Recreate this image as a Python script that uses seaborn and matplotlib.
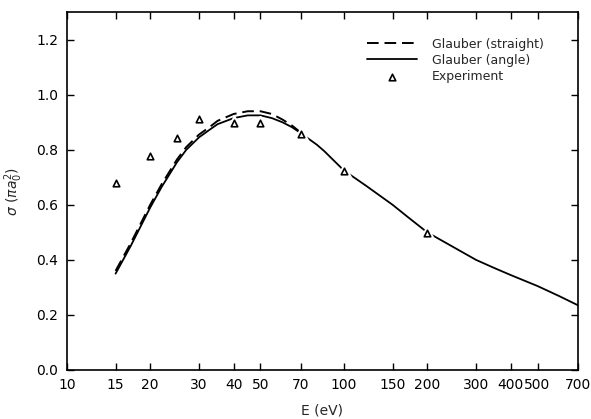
import matplotlib
matplotlib.use("Agg")
import matplotlib.pyplot as plt
import seaborn as sns
import pandas as pd
import numpy as np

# Glauber (angle) - solid
E_angle = [15, 17, 20, 22, 25, 27, 30, 33, 35, 40, 45, 50, 55, 60, 65, 70, 80, 85, 100,
           120, 150, 170, 200, 250, 300, 350, 400, 500, 600, 700]
s_angle = [0.35, 0.45, 0.59, 0.665, 0.755, 0.80, 0.845, 0.875, 0.893, 0.915, 0.925, 0.925,
           0.915, 0.90, 0.882, 0.86, 0.818, 0.795, 0.725, 0.67, 0.60, 0.556, 0.50, 0.445,
           0.40, 0.37, 0.345, 0.305, 0.268, 0.235]

# Glauber (straight) - dashed
E_straight = [15, 17, 20, 22, 25, 27, 30, 33, 35, 40, 45, 50, 55, 60, 65, 70]
s_straight = [0.36, 0.46, 0.60, 0.675, 0.765, 0.81, 0.855, 0.885, 0.905, 0.93, 0.94, 0.94,
              0.93, 0.91, 0.888, 0.862]

# Experiment
E_exp = [15, 20, 25, 30, 40, 50, 70, 100, 200]
s_exp = [0.68, 0.778, 0.844, 0.913, 0.898, 0.898, 0.858, 0.724, 0.498]

xticks = [10, 15, 20, 30, 40, 50, 70, 100, 150, 200, 300, 400, 500, 700]
yticks = [0.0, 0.2, 0.4, 0.6, 0.8, 1.0, 1.2]

sns.set_theme(style="ticks")
plt.rcParams['font.family'] = ['DejaVu Sans']

fig = plt.figure(figsize=(5.91, 4.19), dpi=100)
ax = fig.add_axes([0.113, 0.117, 0.865, 0.854])

df_s = pd.DataFrame({"E": E_straight, "s": s_straight})
df_a = pd.DataFrame({"E": E_angle, "s": s_angle})
df_e = pd.DataFrame({"E": E_exp, "s": s_exp})

sns.lineplot(data=df_s, x="E", y="s", ax=ax, color="black", lw=1.4,
             linestyle=(0, (6, 3)), label="Glauber (straight)", zorder=2)
sns.lineplot(data=df_a, x="E", y="s", ax=ax, color="black", lw=1.3,
             label="Glauber (angle)", zorder=2)
# white halo to create gaps around markers
ax.scatter(E_exp, s_exp, marker="^", s=80, facecolor="white", edgecolor="white",
           linewidths=2, zorder=3)
sns.scatterplot(data=df_e, x="E", y="s", ax=ax, marker="^", s=22,
                facecolor="white", edgecolor="black", linewidth=1.2,
                label="Experiment", zorder=4)

ax.set_xscale("log")
ax.set_xlim(10, 700)
ax.set_ylim(0, 1.3)
ax.set_xticks(xticks)
ax.set_xticklabels([str(t) for t in xticks])
ax.xaxis.set_minor_locator(matplotlib.ticker.NullLocator())
ax.set_yticks(yticks)
ax.set_yticklabels([f"{t:.1f}" for t in yticks])
ax.tick_params(direction="in", top=True, right=True, length=5, width=1,
               labelsize=10, colors="black", pad=6)
for sp in ax.spines.values():
    sp.set_linewidth(1.2)
    sp.set_color("black")

ax.set_xlabel("E (eV)", fontsize=10, labelpad=8)
ax.set_ylabel(r"$\sigma\ (\pi a_0^2)$", fontsize=10, labelpad=8)

leg = ax.legend(loc="upper right", bbox_to_anchor=(0.955, 0.96), frameon=False,
                fontsize=9, handlelength=4.0, handletextpad=1.2,
                labelspacing=0.25)

fig.savefig("out.png", dpi=100, facecolor="white")
